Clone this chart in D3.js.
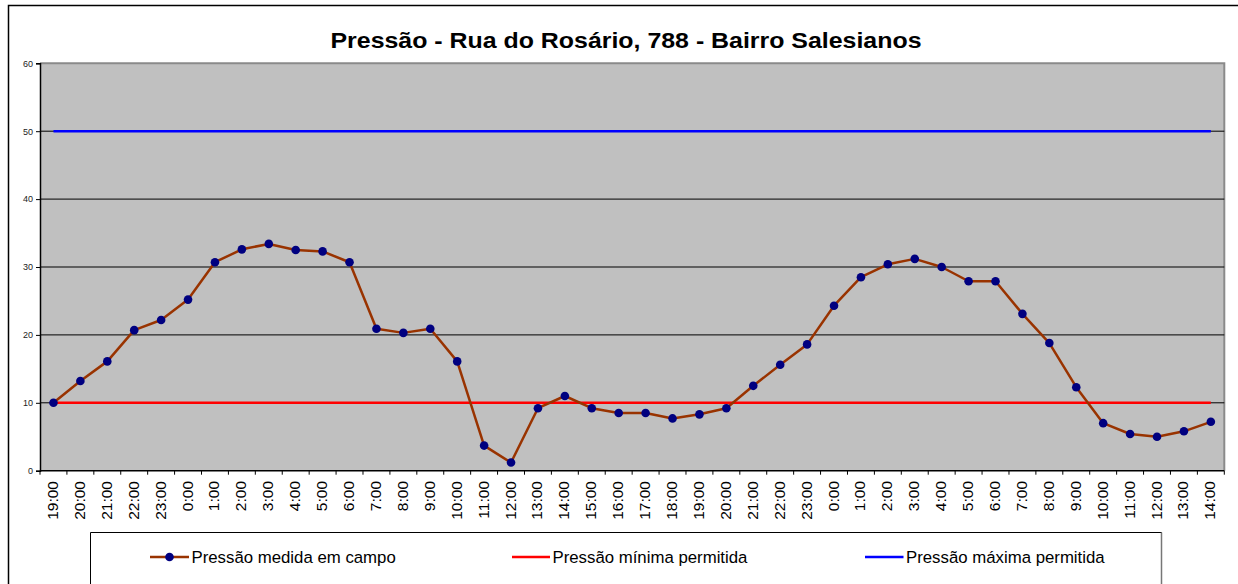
<!DOCTYPE html>
<html>
<head>
<meta charset="utf-8">
<script src="https://cdn.jsdelivr.net/npm/d3@7"></script>
<style>
  html, body { margin: 0; padding: 0; background: #fff; }
  svg { display: block; font-family: "Liberation Sans", Arial, sans-serif; }
</style>
</head>
<body>
<svg id="chart" width="1238" height="584"></svg>
<script>
const categories = ["19:00","20:00","21:00","22:00","23:00","0:00","1:00","2:00","3:00","4:00","5:00","6:00","7:00","8:00","9:00","10:00","11:00","12:00","13:00","14:00","15:00","16:00","17:00","18:00","19:00","20:00","21:00","22:00","23:00","0:00","1:00","2:00","3:00","4:00","5:00","6:00","7:00","8:00","9:00","10:00","11:00","12:00","13:00","14:00"];
const measured = [10.0,13.2,16.1,20.7,22.2,25.2,30.7,32.6,33.4,32.5,32.3,30.7,20.9,20.3,20.9,16.1,3.7,1.2,9.2,11.0,9.2,8.5,8.5,7.7,8.3,9.2,12.5,15.6,18.6,24.3,28.5,30.4,31.2,30.0,27.9,27.9,23.1,18.8,12.3,7.0,5.4,5.0,5.8,7.2];
const minAllowed = 10;
const maxAllowed = 50;
const yTicks = [0,10,20,30,40,50,60];
const title = "Pressão - Rua do Rosário, 788 - Bairro Salesianos";
const legendLabels = ["Pressão medida em campo","Pressão mínima permitida","Pressão máxima permitida"];

const svg = d3.select("#chart");
const L = 40, R = 1224.3, T = 63.3, B = 470.7;

// outer chart border
svg.append("rect").attr("x",8.5).attr("y",5.5).attr("width",1260).attr("height",620)
  .attr("fill","#fff").attr("stroke","#000").attr("stroke-width",1.5);

const idx = categories.map((d,i)=>i);
const x = d3.scaleBand().domain(idx).range([L,R]).padding(0);
const y = d3.scaleLinear().domain([0,60]).range([B,T]);
const cx = i => x(i) + x.bandwidth()/2;

// plot area
svg.append("rect").attr("x",L).attr("y",T).attr("width",R-L).attr("height",B-T).attr("fill","#C0C0C0");
// plot border top/right (grey)
svg.append("path").attr("d",`M${L},${T}H${R}V${B}`).attr("fill","none").attr("stroke","#8a8a8a").attr("stroke-width",2);

// gridlines
svg.append("g").selectAll("line").data(yTicks.filter(v=>v>0 && v<60)).join("line")
  .attr("x1",L).attr("x2",R).attr("y1",d=>y(d)).attr("y2",d=>y(d))
  .attr("stroke","#000").attr("stroke-width",1);

// y axis
const yAxis = svg.append("g").attr("transform",`translate(${L},0)`)
  .call(d3.axisLeft(y).tickValues(yTicks).tickSize(4).tickPadding(3));
yAxis.select(".domain").attr("stroke","#000").attr("stroke-width",1.5);
yAxis.selectAll(".tick line").attr("stroke","#000");
yAxis.selectAll(".tick text").attr("font-size",9).attr("fill","#222").attr("font-family","Liberation Sans, Arial, sans-serif");

// x axis: ticks at category boundaries
const xg = svg.append("g");
xg.append("line").attr("x1",L).attr("x2",R).attr("y1",B).attr("y2",B).attr("stroke","#000").attr("stroke-width",1.5);
const bounds = idx.map(i=>x(i)).concat([R]);
xg.selectAll("line.tk").data(bounds).join("line").attr("class","tk")
  .attr("x1",d=>d).attr("x2",d=>d).attr("y1",B).attr("y2",B+4).attr("stroke","#000").attr("stroke-width",1);
xg.selectAll("text").data(idx).join("text")
  .attr("transform",i=>`translate(${cx(i)-1},${481}) rotate(-90)`)
  .attr("text-anchor","end").attr("dominant-baseline","central")
  .attr("font-size",15.5).attr("fill","#000")
  .text(i=>categories[i]);

// limit lines
svg.append("line").attr("x1",cx(0)).attr("x2",cx(idx.length-1)).attr("y1",y(maxAllowed)).attr("y2",y(maxAllowed))
  .attr("stroke","#0000FF").attr("stroke-width",2.5);
svg.append("line").attr("x1",cx(0)).attr("x2",cx(idx.length-1)).attr("y1",y(minAllowed)).attr("y2",y(minAllowed))
  .attr("stroke","#FF0000").attr("stroke-width",2.5);

// measured series
const line = d3.line().x((d,i)=>cx(i)).y(d=>y(d));
svg.append("path").datum(measured).attr("d",line).attr("fill","none")
  .attr("stroke","#993300").attr("stroke-width",2.5).attr("stroke-linejoin","round");
svg.append("g").selectAll("circle").data(measured).join("circle")
  .attr("cx",(d,i)=>cx(i)).attr("cy",d=>y(d)).attr("r",4.3).attr("fill","#000080");

// title
svg.append("text").attr("x",626).attr("y",47.5).attr("text-anchor","middle")
  .attr("font-size",22).attr("font-weight","bold").attr("fill","#000")
  .attr("textLength",591).attr("lengthAdjust","spacingAndGlyphs")
  .text(title);

// legend
const lg = svg.append("g");
lg.append("path").attr("d","M90.5,600V532.5H1161.5V600").attr("fill","#fff").attr("stroke","#000").attr("stroke-width",1);
lg.append("line").attr("x1",1161.5).attr("x2",1161.5).attr("y1",532.5).attr("y2",600).attr("stroke","#777").attr("stroke-width",1.5);
const legendItems = [
  {x0:150, x1:189, color:"#993300", marker:true},
  {x0:512, x1:550, color:"#FF0000", marker:false},
  {x0:865, x1:903.5, color:"#0000FF", marker:false}
];
const ly = 557;
legendItems.forEach((it,k)=>{
  lg.append("line").attr("x1",it.x0).attr("x2",it.x1).attr("y1",ly).attr("y2",ly).attr("stroke",it.color).attr("stroke-width",2.5);
  if (it.marker) lg.append("circle").attr("cx",(it.x0+it.x1)/2).attr("cy",ly).attr("r",4.3).attr("fill","#000080");
  lg.append("text").attr("x",it.x1+2.5).attr("y",ly).attr("dominant-baseline","central")
    .attr("font-size",16.8).attr("fill","#000").text(legendLabels[k]);
});
</script>
</body>
</html>
